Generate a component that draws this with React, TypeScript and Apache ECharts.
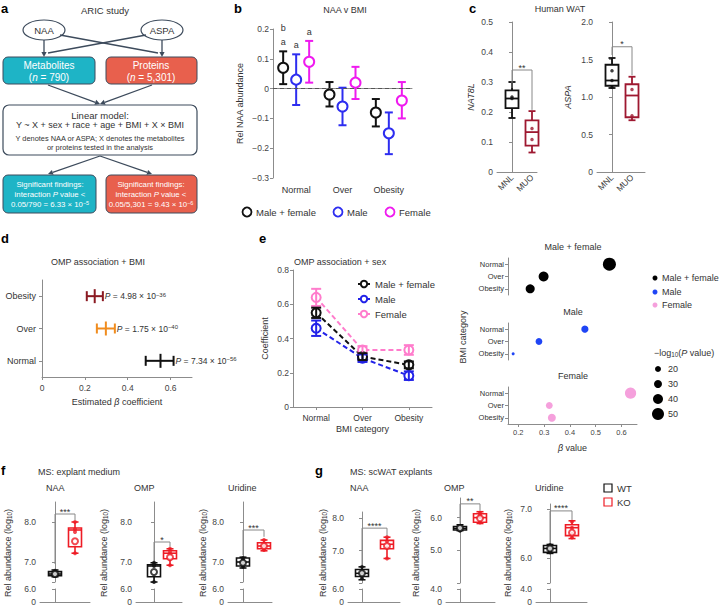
import React, { useEffect, useRef } from 'react';
import * as echarts from 'echarts';

// ---------------- data ----------------
const bmiCats = ['Normal', 'Over', 'Obesity'];

// b: NAA v BMI  [mean, lower, upper]
const bMaleFemale = [[0.07, 0.015, 0.125], [-0.02, -0.06, 0.022], [-0.08, -0.127, -0.035]];
const bMale = [[0.03, -0.055, 0.115], [-0.06, -0.123, 0.003], [-0.15, -0.22, -0.08]];
const bFemale = [[0.09, 0.02, 0.16], [0.02, -0.035, 0.073], [-0.04, -0.1, 0.022]];
const bLettersMF = ['b\na', '', ''];
const bLettersMale = ['a', '', ''];
const bLettersFemale = ['a', '', ''];

// c: Human WAT  [min, q1, median, q3, max]
const cGroups = ['MNL', 'MUO'];
const nat8lBox = [[0.18, 0.213, 0.245, 0.272, 0.30], [0.065, 0.088, 0.133, 0.172, 0.203]];
const nat8lDots = [[0.245, 0.25], [0.145, 0.108]];
const nat8lBracket = [0.28, 0.34, 0.207];
const aspaBox = [[1.12, 1.15, 1.22, 1.43, 1.52], [0.69, 0.73, 1.02, 1.17, 1.27]];
const aspaDots = [[1.35, 1.22, 1.13], [1.1, 0.75]];
const aspaBracket = [1.56, 1.67, 1.29];

// d: OMP association + BMI
const dCats = ['Normal', 'Over', 'Obesity'];
const dBeta = [0.553, 0.298, 0.246];
const dLower = [0.484, 0.256, 0.209];
const dUpper = [0.614, 0.34, 0.284];
const dMantissa = ['7.34', '1.75', '4.98'];
const dExponent = ['−56', '−40', '−36'];

// e: OMP association + sex
const eMF = [0.55, 0.294, 0.246];
const eMFErr = [0.03, 0.02, 0.02];
const eMale = [0.46, 0.285, 0.183];
const eMaleErr = [0.045, 0.022, 0.025];
const eFemale = [0.64, 0.333, 0.333];
const eFemaleErr = [0.05, 0.022, 0.028];

// bubbles: [beta, BMI category, -log10 P]
const bubbleCats = ['Obesity', 'Over', 'Normal'];
const bubMF = [[0.553, 'Normal', 55.1], [0.298, 'Over', 39.8], [0.246, 'Obesity', 35.3]];
const bubMale = [[0.458, 'Normal', 26], [0.28, 'Over', 24], [0.18, 'Obesity', 5]];
const bubFemale = [[0.635, 'Normal', 46], [0.32, 'Over', 24], [0.33, 'Obesity', 30]];
const bubSizeLegend = [20, 30, 40, 50];
const betaTicks = [0.2, 0.3, 0.4, 0.5, 0.6];

// f, g: MS  [min, q1, median, q3, max]
const msGroups = ['WT', 'KO'];
const fNaaBox = [[6.63, 6.66, 6.7, 6.76, 6.8], [7.22, 7.38, 7.8, 7.85, 8.0]];
const fNaaDots = [[6.65, 6.72, 6.78, 6.68], [8.0, 7.82, 7.75, 7.22]];
const fNaaMean = [6.7, 7.52];
const fNaaBracket = [6.95, 8.2, 8.05];
const fOmpBox = [[6.5, 6.63, 6.9, 6.93, 6.98], [6.92, 7.08, 7.22, 7.28, 7.33]];
const fOmpDots = [[6.98, 6.93, 6.5, 6.9], [7.33, 7.25, 7.2, 6.92]];
const fOmpMean = [6.75, 7.12];
const fOmpBracket = [7.0, 7.5, 7.38];
const fUriBox = [[6.85, 6.9, 7.0, 7.1, 7.12], [7.28, 7.33, 7.4, 7.48, 7.55]];
const fUriDots = [[7.1, 6.88, 6.95, 7.05], [7.55, 7.3, 7.45, 7.38]];
const fUriMean = [6.98, 7.4];
const fUriBracket = [7.17, 7.8, 7.63];
const gNaaBox = [[6.1, 6.2, 6.3, 6.42, 6.5], [6.76, 7.06, 7.2, 7.32, 7.42]];
const gNaaDots = [[6.5, 6.15, 6.35, 6.25], [7.42, 7.3, 7.1, 6.76]];
const gNaaMean = [6.3, 7.15];
const gNaaBracket = [6.55, 7.7, 7.45];
const gOmpBox = [[5.6, 5.62, 5.67, 5.73, 5.78], [5.82, 5.86, 6.0, 6.12, 6.18]];
const gOmpDots = [[5.75, 5.6, 5.65, 5.7], [6.15, 6.08, 5.85, 6.02]];
const gOmpMean = [5.68, 5.98];
const gOmpBracket = [5.82, 6.42, 6.21];
const gUriBox = [[6.1, 6.12, 6.2, 6.26, 6.28], [6.4, 6.46, 6.62, 6.68, 6.76]];
const gUriDots = [[6.27, 6.12, 6.2, 6.15], [6.74, 6.62, 6.5, 6.42]];
const gUriMean = [6.2, 6.52];
const gUriBracket = [6.3, 6.96, 6.78];

// ---------------- style ----------------
const FONT = "'Liberation Sans', Arial, sans-serif";
const AXC = '#8c8c8c';
const LINE = { show: true, lineStyle: { color: AXC, width: 1 } };
const TICK = { show: true, length: 3, lineStyle: { color: AXC, width: 1 } };
const LAB = { color: '#444', fontSize: 8.5, fontFamily: FONT, margin: 4 };
const fmt1 = (v: number) => (Math.abs(v) < 1e-9 ? '0' : v.toFixed(1).replace('-', '−'));
const teal = '#1eb4c6';
const coral = '#e8604d';
const slate = '#3d4b5c';

function richG(size: number, fill: string) {
  return {
    i: { fontStyle: 'italic', fontSize: size, fontFamily: FONT, fill },
    s: { fontSize: size * 0.7, fontFamily: FONT, fill, verticalAlign: 'top' },
    b: { fontSize: size * 0.7, fontFamily: FONT, fill, verticalAlign: 'bottom' },
  };
}

function txt(x: number, y: number, text: string, o: any = {}) {
  const fill = o.fill || '#333';
  const size = o.size || 9;
  return {
    type: 'text', x, y, rotation: o.rot || 0, silent: true,
    style: {
      text, fill, fontSize: size, fontFamily: FONT,
      fontWeight: o.weight || 'normal', fontStyle: o.fstyle || 'normal',
      textAlign: o.align || 'center', textVerticalAlign: o.valign || 'middle',
      rich: richG(size, fill),
    },
  };
}

function arrow(x1: number, y1: number, x2: number, y2: number) {
  const ang = Math.atan2(y2 - y1, x2 - x1);
  const L = 5, W = 2.6;
  const bx = x2 - L * Math.cos(ang), by = y2 - L * Math.sin(ang);
  const px = -Math.sin(ang) * W, py = Math.cos(ang) * W;
  return [
    { type: 'line', silent: true, shape: { x1, y1, x2: bx, y2: by }, style: { stroke: slate, lineWidth: 1.3 } },
    { type: 'polygon', silent: true, shape: { points: [[x2, y2], [bx + px, by + py], [bx - px, by - py]] }, style: { fill: slate } },
  ];
}
function seg(x1: number, y1: number, x2: number, y2: number) {
  return { type: 'line', silent: true, shape: { x1, y1, x2, y2 }, style: { stroke: slate, lineWidth: 1.3 } };
}

// ---------------- render helpers ----------------
function errCircleRender(off: number, color: string, letters: string[]) {
  return (params: any, api: any) => {
    const i = api.value(0);
    const c = api.coord([i, api.value(1)]);
    const lo = api.coord([i, api.value(2)]);
    const hi = api.coord([i, api.value(3)]);
    const x = c[0] + off;
    const st = { stroke: color, lineWidth: 2 };
    const ch: any[] = [
      { type: 'line', shape: { x1: x, y1: lo[1], x2: x, y2: hi[1] }, style: st },
      { type: 'line', shape: { x1: x - 4, y1: lo[1], x2: x + 4, y2: lo[1] }, style: st },
      { type: 'line', shape: { x1: x - 4, y1: hi[1], x2: x + 4, y2: hi[1] }, style: st },
      { type: 'circle', shape: { cx: x, cy: c[1], r: 5 }, style: { stroke: color, lineWidth: 2, fill: '#fff' } },
    ];
    const lt = letters[params.dataIndex];
    if (lt) {
      ch.push({ type: 'text', x, y: hi[1] - 2, style: { text: lt, fill: '#333', fontSize: 9, fontFamily: FONT, textAlign: 'center', textVerticalAlign: 'bottom', lineHeight: 14 } });
    }
    return { type: 'group', children: ch };
  };
}

function boxRender(colors: string[], halfW: number, capW: number, lw: number) {
  return (params: any, api: any) => {
    const i = api.value(0);
    const p = [1, 2, 3, 4, 5].map((k) => api.coord([i, api.value(k)]));
    const x = p[0][0];
    const col = colors[i];
    const st = { stroke: col, lineWidth: lw };
    return {
      type: 'group',
      children: [
        { type: 'line', shape: { x1: x, y1: p[0][1], x2: x, y2: p[1][1] }, style: st },
        { type: 'line', shape: { x1: x, y1: p[3][1], x2: x, y2: p[4][1] }, style: st },
        { type: 'line', shape: { x1: x - capW, y1: p[0][1], x2: x + capW, y2: p[0][1] }, style: st },
        { type: 'line', shape: { x1: x - capW, y1: p[4][1], x2: x + capW, y2: p[4][1] }, style: st },
        { type: 'rect', shape: { x: x - halfW, y: p[3][1], width: 2 * halfW, height: p[1][1] - p[3][1] }, style: { stroke: col, lineWidth: lw, fill: '#fff' } },
        { type: 'line', shape: { x1: x - halfW, y1: p[2][1], x2: x + halfW, y2: p[2][1] }, style: st },
      ],
    };
  };
}

function bracketRender(label: string) {
  return (params: any, api: any) => {
    const a = api.coord([api.value(0), api.value(2)]);
    const t0 = api.coord([api.value(0), api.value(3)]);
    const t1 = api.coord([api.value(1), api.value(3)]);
    const b = api.coord([api.value(1), api.value(4)]);
    return {
      type: 'group',
      children: [
        { type: 'polyline', shape: { points: [a, t0, t1, b] }, style: { stroke: '#888', lineWidth: 1, fill: 'none' } },
        { type: 'text', x: (t0[0] + t1[0]) / 2, y: t0[1] + 2, style: { text: label, fill: '#333', fontSize: 9, fontFamily: FONT, textAlign: 'center', textVerticalAlign: 'bottom' } },
      ],
    };
  };
}

function vErrRender(color: string) {
  return (params: any, api: any) => {
    const i = api.value(0);
    const lo = api.coord([i, api.value(1)]);
    const hi = api.coord([i, api.value(2)]);
    const x = lo[0];
    const st = { stroke: color, lineWidth: 2 };
    return {
      type: 'group',
      children: [
        { type: 'line', shape: { x1: x, y1: lo[1], x2: x, y2: hi[1] }, style: st },
        { type: 'line', shape: { x1: x - 5, y1: lo[1], x2: x + 5, y2: lo[1] }, style: st },
        { type: 'line', shape: { x1: x - 5, y1: hi[1], x2: x + 5, y2: hi[1] }, style: st },
      ],
    };
  };
}

const dColors = ['#111111', '#f08c1e', '#8b1a22'];
function dRender(params: any, api: any) {
  const i = params.dataIndex;
  const c = api.coord([api.value(0), api.value(1)]);
  const lo = api.coord([api.value(2), api.value(1)]);
  const hi = api.coord([api.value(3), api.value(1)]);
  const col = dColors[i];
  const st = { stroke: col, lineWidth: 2 };
  const y = c[1];
  return {
    type: 'group',
    children: [
      { type: 'line', shape: { x1: lo[0], y1: y, x2: hi[0], y2: y }, style: st },
      { type: 'line', shape: { x1: lo[0], y1: y - 5, x2: lo[0], y2: y + 5 }, style: st },
      { type: 'line', shape: { x1: hi[0], y1: y - 5, x2: hi[0], y2: y + 5 }, style: st },
      { type: 'line', shape: { x1: c[0], y1: y - 7, x2: c[0], y2: y + 7 }, style: st },
      {
        type: 'text', x: hi[0] + 2, y,
        style: {
          text: '{i|P} = ' + dMantissa[i] + ' × 10{s|' + dExponent[i] + '}',
          fill: '#333', fontSize: 8.5, fontFamily: FONT, textAlign: 'left', textVerticalAlign: 'middle',
          rich: richG(8.5, '#333'),
        },
      },
    ],
  };
}

// ---------------- option ----------------
function buildOption() {
  const grid: any[] = [], xAxis: any[] = [], yAxis: any[] = [], series: any[] = [], g: any[] = [];
  const G = (o: any) => { grid.push({ ...o, containLabel: false, outerBoundsMode: 'none' }); return grid.length - 1; };
  const X = (a: any) => { xAxis.push(a); return xAxis.length - 1; };
  const Y = (a: any) => { yAxis.push(a); return yAxis.length - 1; };
  const nameStyle = { fontSize: 9, color: '#333', fontFamily: FONT };

  // ----- panel a (flow chart) -----
  g.push(txt(105, 10, 'ARIC study', { size: 9.5 }));
  g.push({ type: 'ellipse', silent: true, shape: { cx: 44, cy: 30, rx: 21, ry: 10 }, style: { fill: '#fff', stroke: slate, lineWidth: 1.2 } });
  g.push({ type: 'ellipse', silent: true, shape: { cx: 162, cy: 30, rx: 21, ry: 10 }, style: { fill: '#fff', stroke: slate, lineWidth: 1.2 } });
  g.push(txt(44, 30, 'NAA', { size: 9.5 }));
  g.push(txt(162, 30, 'ASPA', { size: 9.5 }));
  g.push(seg(60, 35, 158, 53));
  g.push(seg(146, 35, 48, 53));
  g.push(...arrow(44, 40, 44, 57));
  g.push(...arrow(162, 40, 162, 57));
  g.push({ type: 'rect', silent: true, shape: { x: 3, y: 57, width: 92, height: 27, r: 5 }, style: { fill: teal, stroke: slate, lineWidth: 1 } });
  g.push({ type: 'rect', silent: true, shape: { x: 106, y: 57, width: 91, height: 27, r: 5 }, style: { fill: coral, stroke: slate, lineWidth: 1 } });
  g.push(txt(49, 65, 'Metabolites', { fill: '#fff', size: 10 }));
  g.push(txt(49, 77, '({i|n} = 790)', { fill: '#fff', size: 10 }));
  g.push(txt(151, 65, 'Proteins', { fill: '#fff', size: 10 }));
  g.push(txt(151, 77, '({i|n} = 5,301)', { fill: '#fff', size: 10 }));
  g.push(...arrow(48, 85, 100, 104));
  g.push(...arrow(152, 85, 100, 104));
  g.push({ type: 'rect', silent: true, shape: { x: 3, y: 105, width: 194, height: 50, r: 6 }, style: { fill: '#fff', stroke: slate, lineWidth: 1.2 } });
  g.push(txt(100, 115, 'Linear model:', { size: 9.5 }));
  g.push(txt(100, 125, 'Y ~ X + sex + race + age + BMI + X × BMI', { size: 9 }));
  g.push(txt(100, 138, 'Y denotes NAA or ASPA; X denotes the metabolites', { size: 7.4 }));
  g.push(txt(100, 147, 'or proteins tested in the analysis', { size: 7.4 }));
  g.push(...arrow(100, 156, 48, 174));
  g.push(...arrow(100, 156, 152, 174));
  g.push({ type: 'rect', silent: true, shape: { x: 3, y: 175, width: 93, height: 38, r: 5 }, style: { fill: teal, stroke: slate, lineWidth: 1 } });
  g.push({ type: 'rect', silent: true, shape: { x: 106, y: 175, width: 91, height: 38, r: 5 }, style: { fill: coral, stroke: slate, lineWidth: 1 } });
  g.push(txt(50, 184, 'Significant findings:', { fill: '#fff', size: 7.8 }));
  g.push(txt(50, 194, 'interaction {i|P} value <', { fill: '#fff', size: 7.8 }));
  g.push(txt(50, 204, '0.05/790 = 6.33 × 10{s|−5}', { fill: '#fff', size: 7.8 }));
  g.push(txt(151, 184, 'Significant findings:', { fill: '#fff', size: 7.8 }));
  g.push(txt(151, 194, 'interaction {i|P} value <', { fill: '#fff', size: 7.8 }));
  g.push(txt(151, 204, '0.05/5,301 = 9.43 × 10{s|−6}', { fill: '#fff', size: 7.8 }));

  // panel letters
  const letters: any[] = [['a', 1, 8], ['b', 234, 8], ['c', 469, 8], ['d', 1, 238], ['e', 259, 238], ['f', 1, 470], ['g', 315, 470]];
  letters.forEach(([t, x, y]) => g.push(txt(x, y, t, { size: 13, weight: 'bold', fill: '#000', align: 'left' })));

  // ----- panel b -----
  g.push(txt(345, 10, 'NAA v BMI'));
  const gb = G({ left: 273, top: 29, width: 139, height: 149 });
  const xb = X({ gridIndex: gb, type: 'category', data: bmiCats, axisLine: LINE, axisTick: { show: false }, axisLabel: { ...LAB, fontSize: 9, color: '#333', margin: 7 } });
  const yb = Y({
    gridIndex: gb, type: 'value', min: -0.3, max: 0.2, interval: 0.1, splitLine: { show: false }, axisLine: LINE, axisTick: TICK,
    axisLabel: { ...LAB, formatter: fmt1 }, name: 'Rel NAA abundance', nameLocation: 'middle', nameGap: 29, nameTextStyle: nameStyle,
  });
  const bSets = [
    { name: 'Male + female', d: bMaleFemale, lt: bLettersMF, color: '#111111', off: -13 },
    { name: 'Male', d: bMale, lt: bLettersMale, color: '#2d2df0', off: 0 },
    { name: 'Female', d: bFemale, lt: bLettersFemale, color: '#ef1aef', off: 13 },
  ];
  series.push({
    type: 'scatter', xAxisIndex: xb, yAxisIndex: yb, data: [[0, 0]], symbolSize: 0, silent: true,
    markLine: { silent: true, symbol: 'none', label: { show: false }, data: [{ yAxis: 0 }], lineStyle: { type: [4, 3], color: '#555', width: 1 } },
  });
  bSets.forEach((s) => series.push({
    type: 'custom', name: 'b ' + s.name, xAxisIndex: xb, yAxisIndex: yb, silent: true, z: 3,
    renderItem: errCircleRender(s.off, s.color, s.lt),
    data: s.d.map((d, i) => [i, d[0], d[1], d[2]]),
  }));
  const bLegX = [247, 338, 390];
  bSets.forEach((s, k) => {
    g.push({ type: 'circle', silent: true, shape: { cx: bLegX[k], cy: 212, r: 4.5 }, style: { fill: '#fff', stroke: s.color, lineWidth: 1.8 } });
    g.push(txt(bLegX[k] + 9, 212, s.name, { size: 9.5, align: 'left' }));
  });

  // ----- panel c -----
  g.push(txt(560, 9, 'Human WAT'));
  const cColors = ['#111111', '#9e1830'];
  const cCharts = [
    { box: nat8lBox, dots: nat8lDots, br: nat8lBracket, sig: '**', name: 'NAT8L', axisX: 497, right: 537, x0: 512, x1: 532, max: 0.5, interval: 0.1, gap: 22 },
    { box: aspaBox, dots: aspaDots, br: aspaBracket, sig: '*', name: 'ASPA', axisX: 597, right: 645, x0: 612, x1: 632, max: 2.0, interval: 0.5, gap: 25 },
  ];
  cCharts.forEach((c) => {
    const unit = c.x1 - c.x0;
    const gi = G({ left: c.axisX, top: 22, width: c.right - c.axisX, height: 150 });
    const xi = X({
      gridIndex: gi, type: 'value', min: -(c.x0 - c.axisX) / unit, max: 1 + (c.right - c.x1) / unit, splitLine: { show: false },
      axisLine: LINE, axisTick: { show: false },
      axisLabel: { ...LAB, color: '#333', customValues: [0, 1], formatter: (v: number) => cGroups[Math.round(v)] || '', rotate: 45, margin: 4 },
    });
    const yi = Y({
      gridIndex: gi, type: 'value', min: 0, max: c.max, interval: c.interval, splitLine: { show: false }, axisLine: LINE, axisTick: TICK,
      axisLabel: { ...LAB, formatter: fmt1 }, name: c.name, nameLocation: 'middle', nameGap: c.gap,
      nameTextStyle: { ...nameStyle, fontStyle: 'italic' },
    });
    series.push({ type: 'custom', xAxisIndex: xi, yAxisIndex: yi, silent: true, renderItem: boxRender(cColors, 6.5, 3.5, 1.8), data: c.box.map((b, i) => [i, ...b]) });
    const dd: any[] = [];
    c.dots.forEach((arr, i) => arr.forEach((v) => dd.push({ value: [i, v], itemStyle: { color: cColors[i] } })));
    series.push({ type: 'scatter', xAxisIndex: xi, yAxisIndex: yi, silent: true, symbolSize: 3.5, data: dd, z: 4 });
    series.push({ type: 'custom', xAxisIndex: xi, yAxisIndex: yi, silent: true, renderItem: bracketRender(c.sig), data: [[0, 1, c.br[0], c.br[1], c.br[2]]] });
  });

  // ----- panel d -----
  g.push(txt(98, 262, 'OMP association + BMI'));
  const gd = G({ left: 42, top: 280, width: 150, height: 97 });
  const dTicks = [0, 0.2, 0.4, 0.6];
  const xd = X({
    gridIndex: gd, type: 'value', min: 0, max: 0.7, splitLine: { show: false }, axisLine: LINE,
    axisTick: { ...TICK, customValues: dTicks }, axisLabel: { ...LAB, customValues: dTicks, formatter: fmt1, margin: 6 },
    name: 'Estimated {i|β} coefficient', nameLocation: 'middle', nameGap: 20,
    nameTextStyle: { ...nameStyle, rich: { i: { fontStyle: 'italic', fontSize: 9, fontFamily: FONT, color: '#333' } } },
  });
  const yd = Y({
    gridIndex: gd, type: 'category', data: dCats, axisLine: LINE, axisTick: { ...TICK, alignWithLabel: true },
    axisLabel: { ...LAB, fontSize: 9, color: '#333', margin: 6 },
  });
  series.push({
    type: 'custom', xAxisIndex: xd, yAxisIndex: yd, silent: true, renderItem: dRender, encode: { x: 0, y: 1 },
    data: dBeta.map((b, i) => [b, i, dLower[i], dUpper[i]]),
  });

  // ----- panel e (line) -----
  g.push(txt(294, 262, 'OMP association + sex', { align: 'left' }));
  const ge = G({ left: 293, top: 270, width: 139, height: 137 });
  const xe = X({
    gridIndex: ge, type: 'category', data: bmiCats, axisLine: LINE, axisTick: { ...TICK, alignWithLabel: true },
    axisLabel: { ...LAB, fontSize: 8.5, color: '#333', margin: 6 }, name: 'BMI category', nameLocation: 'middle', nameGap: 17, nameTextStyle: nameStyle,
  });
  const ye = Y({
    gridIndex: ge, type: 'value', min: 0, max: 0.8, interval: 0.2, splitLine: { show: false }, axisLine: LINE, axisTick: TICK,
    axisLabel: { ...LAB, formatter: fmt1 }, name: 'Coefficient', nameLocation: 'middle', nameGap: 24, nameTextStyle: nameStyle,
  });
  const eSets = [
    { name: 'Male + female', v: eMF, err: eMFErr, color: '#111111' },
    { name: 'Male', v: eMale, err: eMaleErr, color: '#2222e8' },
    { name: 'Female', v: eFemale, err: eFemaleErr, color: '#ff7ccc' },
  ];
  eSets.slice().reverse().forEach((s) => {
    series.push({
      type: 'line', name: s.name, xAxisIndex: xe, yAxisIndex: ye, data: s.v, symbol: 'emptyCircle', symbolSize: 9, silent: true,
      lineStyle: { type: [5, 3], width: 2, color: s.color }, itemStyle: { color: s.color, borderColor: s.color, borderWidth: 2 }, z: 3,
    });
    series.push({
      type: 'custom', xAxisIndex: xe, yAxisIndex: ye, silent: true, z: 4, renderItem: vErrRender(s.color),
      data: s.v.map((v, i) => [i, v - s.err[i], v + s.err[i]]),
    });
  });

  // ----- bubble panels -----
  const bubSets = [
    { title: 'Male + female', d: bubMF, color: '#000000', top: 258 },
    { title: 'Male', d: bubMale, color: '#1f45f5', top: 323 },
    { title: 'Female', d: bubFemale, color: '#f5a0dc', top: 387 },
  ];
  const bubSize = (v: number) => 0.2 * v + 2;
  bubSets.forEach((s, k) => {
    const last = k === bubSets.length - 1;
    const gi = G({ left: 508, top: s.top, width: 129, height: 37 });
    const xi = X(last ? {
      gridIndex: gi, type: 'value', min: 0.16, max: 0.66, splitLine: { show: false }, axisLine: LINE,
      axisTick: { ...TICK, customValues: betaTicks }, axisLabel: { ...LAB, fontSize: 7.5, customValues: betaTicks, formatter: fmt1 },
      name: '{i|β} value', nameLocation: 'middle', nameGap: 19,
      nameTextStyle: { ...nameStyle, rich: { i: { fontStyle: 'italic', fontSize: 9, fontFamily: FONT, color: '#333' } } },
    } : { gridIndex: gi, type: 'value', min: 0.16, max: 0.66, show: false, splitLine: { show: false } });
    const yi = Y({
      gridIndex: gi, type: 'category', data: bubbleCats, axisLine: LINE, axisTick: { ...TICK, alignWithLabel: true },
      axisLabel: { ...LAB, fontSize: 7.5, color: '#333', margin: 4 },
    });
    series.push({
      type: 'scatter', name: 'bub ' + s.title, xAxisIndex: xi, yAxisIndex: yi, silent: true, data: s.d,
      symbolSize: (v: any) => bubSize(v[2]), itemStyle: { color: s.color, opacity: 1 },
    });
    g.push(txt(573, s.top - 11, s.title, { size: 9 }));
  });
  g.push(txt(463, 337, 'BMI category', { size: 9, rot: Math.PI / 2 }));
  const bubLegY = [278, 292, 305];
  bubSets.forEach((s, k) => {
    g.push({ type: 'circle', silent: true, shape: { cx: 655, cy: bubLegY[k], r: 2.5 }, style: { fill: s.color } });
    g.push(txt(662, bubLegY[k], s.title, { size: 9, align: 'left' }));
  });
  g.push(txt(654, 353, '−log{b|10}({i|P} value)', { size: 9, align: 'left' }));
  const sizeLegY = [369, 384, 399, 414];
  bubSizeLegend.forEach((v, k) => {
    g.push({ type: 'circle', silent: true, shape: { cx: 658, cy: sizeLegY[k], r: bubSize(v) / 2 }, style: { fill: '#000' } });
    g.push(txt(668, sizeLegY[k], String(v), { size: 9, align: 'left' }));
  });

  // ----- panels f, g -----
  g.push(txt(38, 472, 'MS: explant medium', { size: 9, align: 'left' }));
  g.push(txt(350, 472, 'MS: scWAT explants', { size: 9, align: 'left' }));
  const msColors = ['#111111', '#ee1c25'];
  const msLayout = [
    { box: fNaaBox, dots: fNaaDots, mean: fNaaMean, br: fNaaBracket, sig: '***', title: 'NAA', tx: 46, nx: 8, axisX: 40, right: 90, x0: 55, x1: 75, top: 502, bottom: 582, min: 6.5, max: 8.5, ticks: [7, 8], lowTop: 589, lowBottom: 602, lowMax: 6 },
    { box: fOmpBox, dots: fOmpDots, mean: fOmpMean, br: fOmpBracket, sig: '*', title: 'OMP', tx: 134, nx: 104, axisX: 136, right: 182, x0: 154, x1: 170, top: 502, bottom: 582, min: 6.5, max: 8.5, ticks: [7, 8], lowTop: 589, lowBottom: 602, lowMax: 6 },
    { box: fUriBox, dots: fUriDots, mean: fUriMean, br: fUriBracket, sig: '***', title: 'Uridine', tx: 228, nx: 203, axisX: 228, right: 272, x0: 243, x1: 264, top: 502, bottom: 582, min: 6.5, max: 8.5, ticks: [7, 8], lowTop: 589, lowBottom: 602, lowMax: 6 },
    { box: gNaaBox, dots: gNaaDots, mean: gNaaMean, br: gNaaBracket, sig: '****', title: 'NAA', tx: 350, nx: 323, axisX: 348, right: 400, x0: 362, x1: 387, top: 512, bottom: 583, min: 6.0, max: 8.2, ticks: [7, 8], lowTop: 589, lowBottom: 602, lowMax: 6 },
    { box: gOmpBox, dots: gOmpDots, mean: gOmpMean, br: gOmpBracket, sig: '**', title: 'OMP', tx: 444, nx: 416, axisX: 446, right: 495, x0: 460, x1: 480, top: 498, bottom: 583, min: 4.0, max: 6.6, ticks: [5, 6], lowTop: 589, lowBottom: 602, lowMax: 4 },
    { box: gUriBox, dots: gUriDots, mean: gUriMean, br: gUriBracket, sig: '****', title: 'Uridine', tx: 535, nx: 508, axisX: 536, right: 587, x0: 550, x1: 572, top: 504, bottom: 583, min: 5.5, max: 7.1, ticks: [6, 7], lowTop: 589, lowBottom: 602, lowMax: 4 },
  ];
  msLayout.forEach((m) => {
    const unit = m.x1 - m.x0;
    const xmin = -(m.x0 - m.axisX) / unit;
    const xmax = 1 + (m.right - m.x1) / unit;
    g.push(txt(m.tx, 488, m.title, { size: 9, align: 'left' }));
    g.push(txt(m.nx, 553, 'Rel abundance (log{b|10})', { size: 9, rot: Math.PI / 2 }));
    const gu = G({ left: m.axisX, top: m.top, width: m.right - m.axisX, height: m.bottom - m.top });
    const xu = X({ gridIndex: gu, type: 'value', min: xmin, max: xmax, show: false, splitLine: { show: false } });
    const yu = Y({
      gridIndex: gu, type: 'value', min: m.min, max: m.max, splitLine: { show: false }, axisLine: LINE,
      axisTick: { ...TICK, customValues: [m.min, ...m.ticks] }, axisLabel: { ...LAB, customValues: m.ticks, formatter: fmt1 },
    });
    const gl = G({ left: m.axisX, top: m.lowTop, width: m.right - m.axisX, height: m.lowBottom - m.lowTop });
    const xl = X({ gridIndex: gl, type: 'value', min: xmin, max: xmax, splitLine: { show: false }, axisLine: LINE, axisTick: { show: false }, axisLabel: { show: false } });
    const yl = Y({
      gridIndex: gl, type: 'value', min: 0, max: m.lowMax, splitLine: { show: false }, axisLine: LINE,
      axisTick: { ...TICK, customValues: [0, m.lowMax] }, axisLabel: { ...LAB, customValues: [0, m.lowMax], formatter: fmt1 },
    });
    series.push({ type: 'scatter', xAxisIndex: xl, yAxisIndex: yl, data: [], silent: true });
    series.push({ type: 'custom', xAxisIndex: xu, yAxisIndex: yu, silent: true, renderItem: boxRender(msColors, 6.5, 3.5, 1.6), data: m.box.map((b, i) => [i, ...b]) });
    const dd: any[] = [];
    m.dots.forEach((arr, i) => arr.forEach((v) => dd.push({ value: [i, v], itemStyle: { color: msColors[i] } })));
    series.push({ type: 'scatter', xAxisIndex: xu, yAxisIndex: yu, silent: true, symbolSize: 4, data: dd, z: 4 });
    series.push({
      type: 'scatter', xAxisIndex: xu, yAxisIndex: yu, silent: true, symbol: 'emptyCircle', symbolSize: 6, z: 5,
      data: m.mean.map((v, i) => ({ value: [i, v], itemStyle: { color: msColors[i], borderColor: msColors[i], borderWidth: 1.2 } })),
    });
    series.push({ type: 'custom', xAxisIndex: xu, yAxisIndex: yu, silent: true, renderItem: bracketRender(m.sig), data: [[0, 1, m.br[0], m.br[1], m.br[2]]] });
  });
  msGroups.forEach((name, k) => {
    const y = 488 + k * 14;
    g.push({ type: 'rect', silent: true, shape: { x: 604, y: y - 4, width: 8, height: 8 }, style: { fill: '#fff', stroke: msColors[k], lineWidth: 1.2 } });
    g.push(txt(617, y, name, { size: 9.5, align: 'left' }));
  });

  return {
    animation: false,
    backgroundColor: '#ffffff',
    textStyle: { fontFamily: FONT },
    grid, xAxis, yAxis, series,
    legend: [{
      data: eSets.map((s) => s.name), left: 352, top: 274, orient: 'vertical', itemWidth: 12, itemHeight: 8, itemGap: 5,
      selectedMode: false, textStyle: { fontSize: 9.5, color: '#333', fontFamily: FONT },
    }],
    graphic: { elements: g },
  };
}

export default function App() {
  const ref = useRef<HTMLDivElement>(null);
  useEffect(() => {
    if (!ref.current) return;
    const chart = echarts.init(ref.current, null, { renderer: 'svg' });
    chart.setOption(buildOption() as any);
    return () => { chart.dispose(); };
  }, []);
  return <div ref={ref} style={{ position: 'absolute', left: 0, top: 0, width: 721, height: 608, background: '#fff' }} />;
}
